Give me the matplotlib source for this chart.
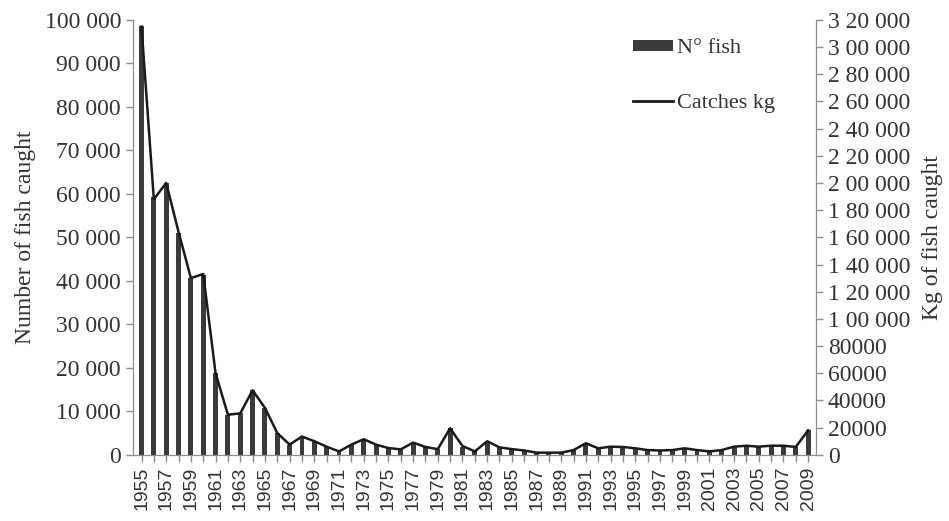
import numpy as np
import matplotlib.pyplot as plt
from matplotlib.ticker import FuncFormatter, MultipleLocator
from matplotlib.patches import Patch
from matplotlib.lines import Line2D

years = list(range(1955, 2010))

# number of fish caught (bars, left axis)
n_fish = [98500, 59300, 62500, 51000, 40700, 41400, 18800, 9200, 9600, 14900,
          10700, 5000, 2300, 4200, 3100, 1900, 800, 2300, 3600, 2300,
          1500, 1300, 2800, 1800, 1300, 6100, 1900, 800, 3100, 1700,
          1300, 1000, 500, 500, 500, 1100, 2700, 1500, 1900, 1800,
          1500, 1100, 1000, 1100, 1500, 1100, 800, 1100, 1900, 2100,
          1900, 2100, 2100, 1800, 5700]

# catches in kg (line, right axis)
catches_kg = [315000, 188000, 200000, 164000, 130000, 133000, 60000, 29500, 30500, 47500,
              34500, 16000, 7500, 13500, 10000, 6000, 2500, 7500, 11500, 7500,
              5000, 4000, 9000, 5800, 4200, 19500, 6500, 2500, 10000, 5500,
              4200, 3200, 1600, 1600, 1600, 3500, 8500, 4800, 6000, 5800,
              4800, 3500, 3200, 3500, 4800, 3500, 2500, 3500, 6000, 6700,
              6000, 6700, 6700, 5800, 18000]

serif = 'Liberation Serif'
grey = '#8c8c8c'
txt = '#333333'

fig = plt.figure(figsize=(9.49, 5.21), dpi=100)
ax = fig.add_axes([0.140, 0.127, 0.720, 0.835])
ax2 = ax.twinx()

x = np.arange(len(years))
ax.bar(x, n_fish, width=0.4, color='#3a3a3a', zorder=2)
ax2.plot(x, catches_kg, color='#1a1a1a', lw=1.8, zorder=3)

ax.set_xlim(-0.7, 54.65)
ax.set_ylim(0, 100000)
ax2.set_ylim(0, 320000)
ax.yaxis.set_major_locator(MultipleLocator(10000))
ax2.yaxis.set_major_locator(MultipleLocator(20000))

ax.yaxis.set_major_formatter(FuncFormatter(lambda v, p: f"{int(v):,}".replace(",", " ")))

def kg_fmt(v, p):
    v = int(round(v))
    if v >= 100000:
        return f"{v // 100000} {(v % 100000) // 1000:02d} 000"
    if v == 0:
        return "0"
    return f"{v // 1000}000"

ax2.yaxis.set_major_formatter(FuncFormatter(kg_fmt))

ax.set_xticks(x)
ax.set_xticklabels([str(y) if (y - 1955) % 2 == 0 else '' for y in years],
                   rotation=90, fontsize=14, family='Liberation Sans', color=txt)

for a in (ax, ax2):
    for s in a.spines.values():
        s.set_color(grey)
    a.spines['top'].set_visible(False)
    a.tick_params(colors=grey, length=5, width=1)

for lab in ax.get_yticklabels() + ax2.get_yticklabels():
    lab.set_family(serif)
    lab.set_fontsize(17)
    lab.set_color(txt)
for lab in ax.get_xticklabels():
    lab.set_color(txt)

ax.set_ylabel('Number of fish caught', family=serif, fontsize=17, color=txt, labelpad=6)
ax2.set_ylabel('Kg of fish caught', family=serif, fontsize=17, color=txt, labelpad=8)

handles = [Patch(facecolor='#3a3a3a', edgecolor='none'),
           Line2D([0], [0], color='#1a1a1a', lw=2)]
leg = ax.legend(handles, ['N\u00b0 fish', 'Catches kg'], loc='upper left',
                bbox_to_anchor=(0.667, 0.925), bbox_transform=fig.transFigure,
                frameon=False, prop={'family': serif, 'size': 16},
                borderpad=0, borderaxespad=0,
                labelspacing=1.6, handlelength=1.8, handleheight=0.4, handletextpad=0.2)
for t in leg.get_texts():
    t.set_color(txt)

fig.savefig('out.png', dpi=100)
